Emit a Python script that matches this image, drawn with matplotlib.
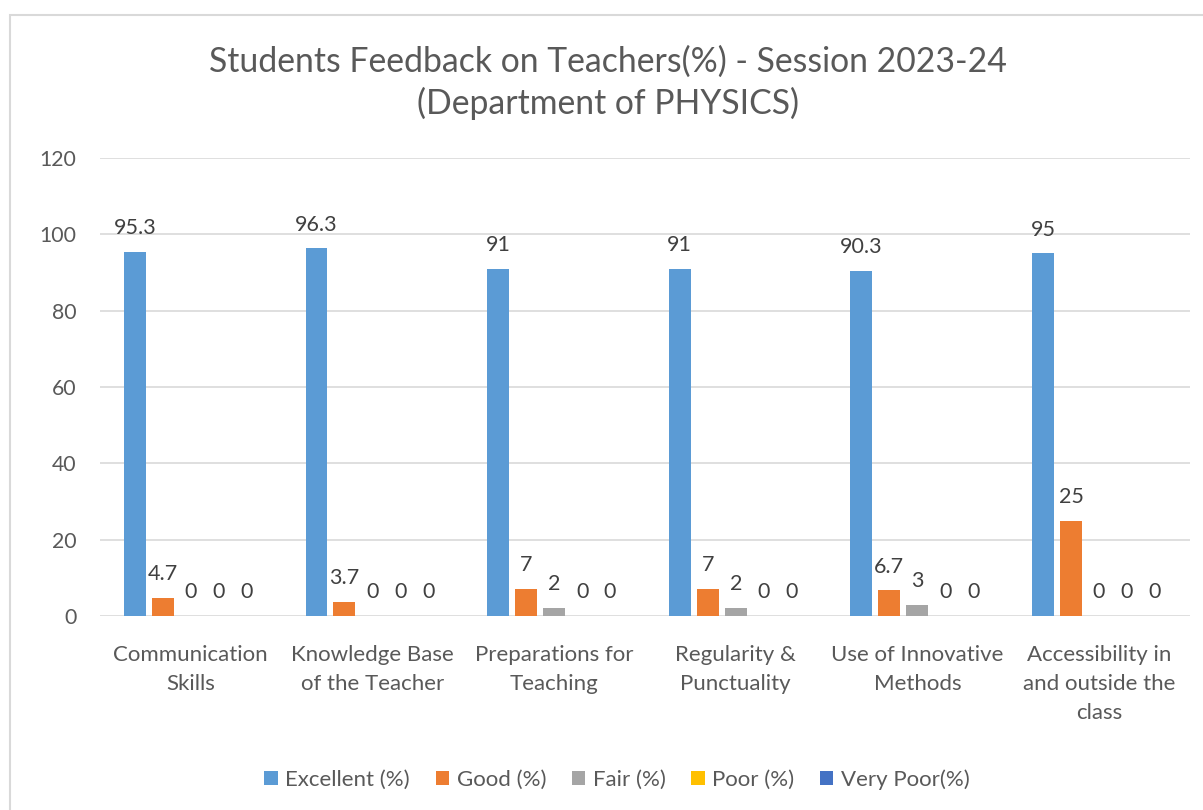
import numpy as np
import matplotlib.pyplot as plt
from matplotlib.patches import Rectangle

plt.rcParams['font.family'] = ['Lato', 'DejaVu Sans']

# categories and series (values in %)
categories = ['Communication\nSkills', 'Knowledge Base\nof the Teacher',
              'Preparations for\nTeaching', 'Regularity &\nPunctuality',
              'Use of Innovative\nMethods', 'Accessibility in\nand outside the\nclass']
excellent = [95.3, 96.3, 91, 91, 90.3, 95]
good = [4.7, 3.7, 7, 7, 6.7, 25]
fair = [0, 0, 2, 2, 3, 0]
poor = [0, 0, 0, 0, 0, 0]
very_poor = [0, 0, 0, 0, 0, 0]
series_names = ['Excellent (%)', 'Good (%)', 'Fair (%)', 'Poor (%)', 'Very Poor(%)']
colors = ['#5B9BD5', '#ED7D31', '#A5A5A5', '#FFC000', '#4472C4']

fig = plt.figure(figsize=(12.03, 8.10), dpi=100)
ax = fig.add_axes([0.0831, 0.2395, 0.906, 0.5654])

# light chart border
fig.patches.append(Rectangle((10 / 1203, -0.05), 1.1, 1 - 15 / 810 + 0.05,
                             transform=fig.transFigure, fill=False,
                             edgecolor='#D9D9D9', linewidth=1.5))

x = np.arange(len(categories))
pitch = 0.154
width = 0.121
all_series = [excellent, good, fair, poor, very_poor]
for i, (vals, name, c) in enumerate(zip(all_series, series_names, colors)):
    pos = x + (i - 2) * pitch
    ax.bar(pos, vals, width, color=c, label=name, zorder=3)
    for px, v in zip(pos, vals):
        ax.annotate('{:g}'.format(v), (px, v), xytext=(0, 10),
                    textcoords='offset points', ha='center', va='bottom',
                    fontsize=15.5, color='#404040')

ax.set_ylim(0, 120)
ax.set_xlim(-0.5, len(categories) - 0.5)
ax.set_yticks(range(0, 121, 20))
ax.yaxis.grid(True, color='#D9D9D9', linewidth=1.2, zorder=0)
for s in ax.spines.values():
    s.set_visible(False)
ax.tick_params(axis='both', length=0, labelcolor='#595959')
ax.tick_params(axis='y', pad=17, labelsize=15.3)
ax.set_xticks(x)
ax.set_xticklabels(categories, fontsize=16, linespacing=1.55)
ax.tick_params(axis='x', pad=21)

fig.text(0.505, 0.898, 'Students Feedback on Teachers(%) - Session 2023-24\n(Department of PHYSICS)',
         ha='center', va='center', fontsize=24.3, color='#595959', linespacing=1.33)

fig.legend(loc='center', bbox_to_anchor=(0.513, 0.038), ncol=5, frameon=False,
           fontsize=16, labelcolor='#595959', handlelength=0.6, handleheight=0.6,
           handletextpad=0.35, columnspacing=1.15)

fig.savefig('out.png', dpi=100)
